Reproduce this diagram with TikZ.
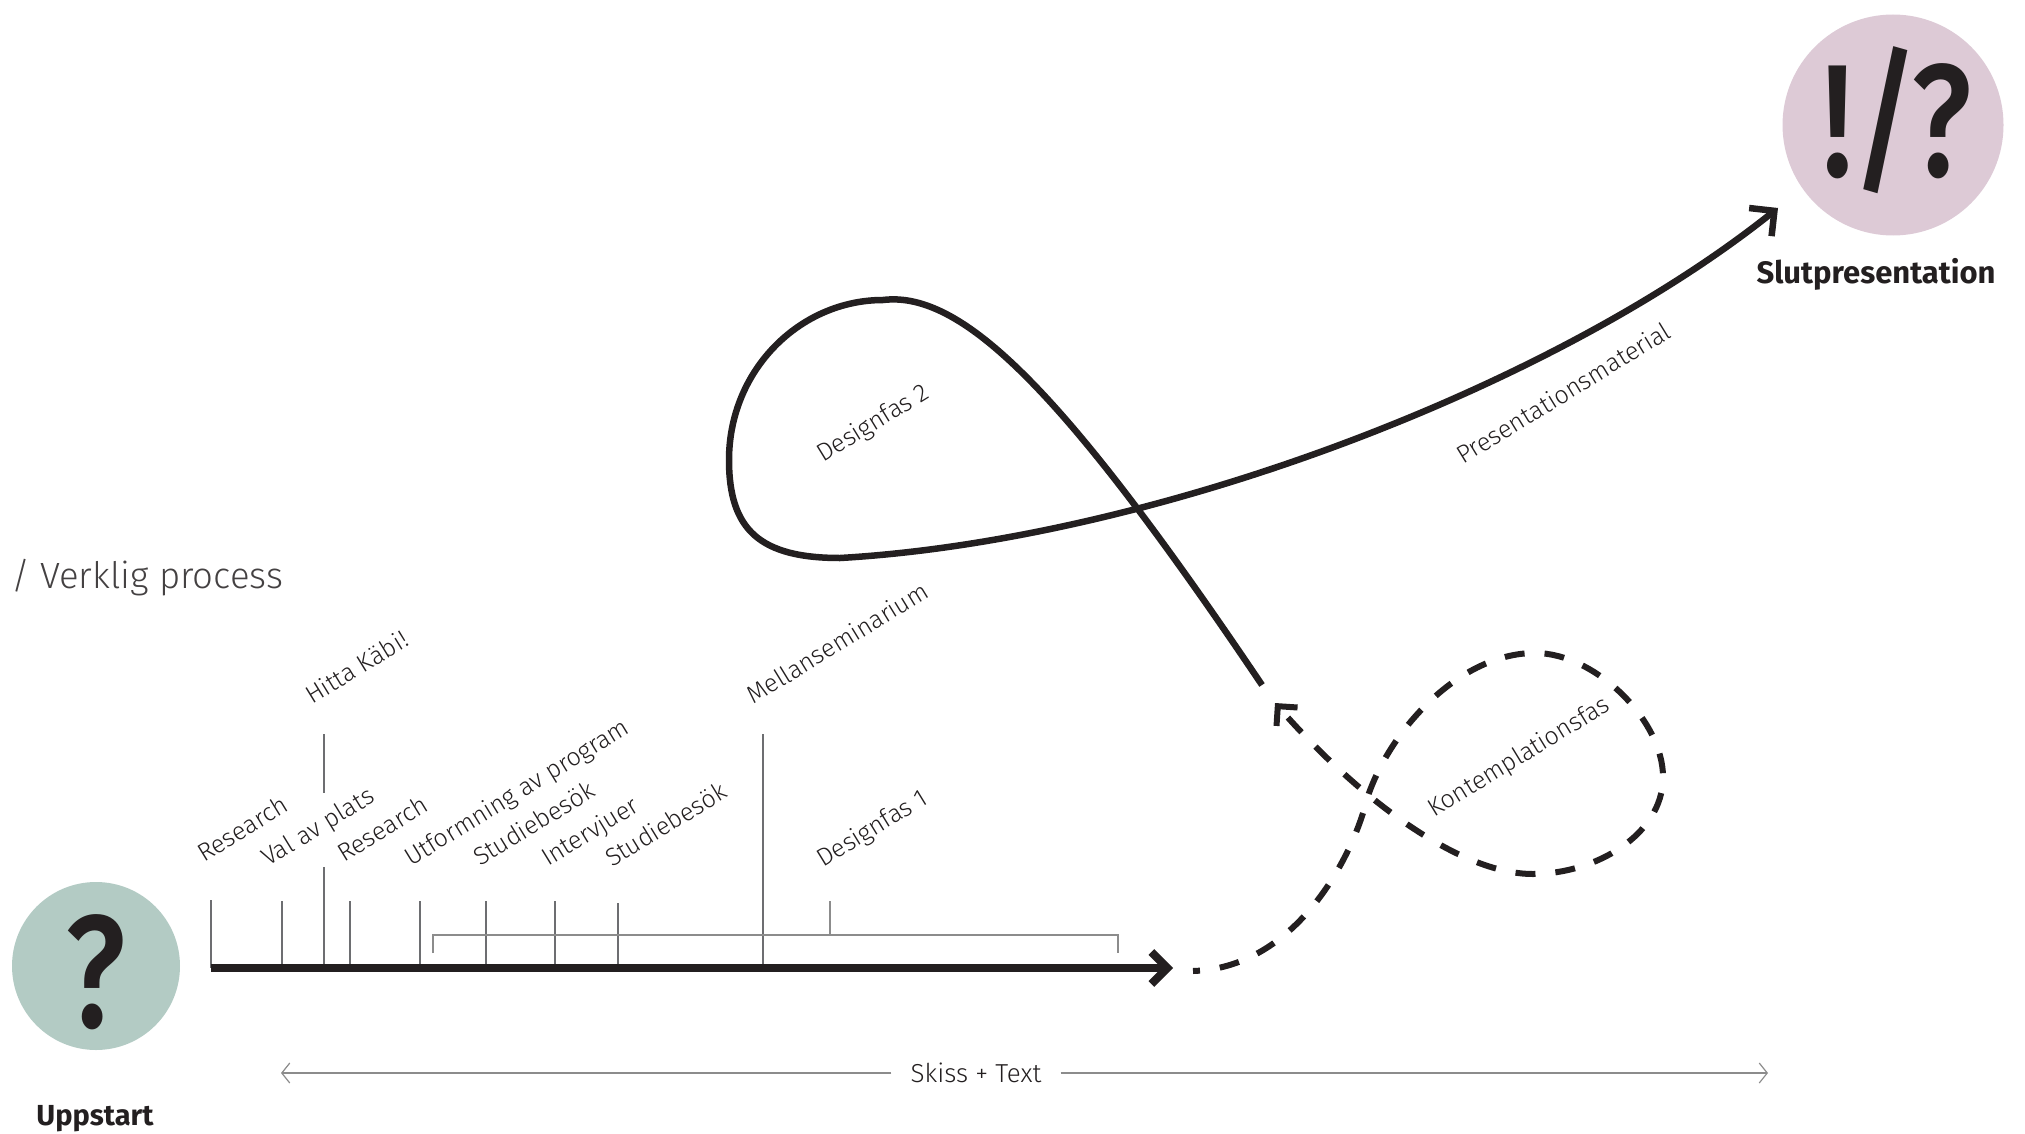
\documentclass[tikz,border=0pt]{standalone}
\usepackage{fontspec}
\setmainfont{Fira Sans}
\newfontfamily\lightf{Fira Sans Light}
\newfontfamily\medf{Fira Sans Medium}
\usetikzlibrary{arrows.meta}
\definecolor{ink}{HTML}{231F20}
\definecolor{tickgray}{HTML}{6D6E71}
\definecolor{palegray}{HTML}{8C8C8C}
\definecolor{startgreen}{HTML}{B3CBC4}
\definecolor{endpink}{HTML}{DDCAD6}
\begin{document}
\begin{tikzpicture}[x=1pt,y=-1pt,
  lbl/.style={font=\lightf\fontsize{25}{30}\selectfont, text=ink, anchor=base west, inner sep=0pt, rotate=31.5},
  tickline/.style={draw=tickgray, line width=2pt},
  bracketline/.style={draw=palegray, line width=2pt},
  mainarrow/.style={draw=ink, line width=8pt, -{Straight Barb[length=16pt,width=32pt]}},
  curvearrow/.style={draw=ink, line width=6.5pt, line join=round, -{Straight Barb[length=18pt,width=36pt]}},
  dasharrow/.style={draw=ink, line width=6pt, dash pattern=on 20pt off 20pt, dash phase=13pt, -{Straight Barb[length=14pt,width=28pt]}},
  skissarrow/.style={draw=palegray, line width=2pt},
  bigmark/.style={font=\medf\fontsize{160}{160}\selectfont, text=ink, inner sep=0pt, anchor=base, xscale=0.8},
  title/.style={font=\bfseries\fontsize{29}{34}\selectfont, text=ink, inner sep=0pt, anchor=base},
]
\useasboundingbox (0,0) rectangle (2025,1134);

% circles
\node[circle, fill=startgreen, minimum size=168pt, inner sep=0pt] (startc) at (96,966) {};
\node[bigmark] (qmark) at (96,1027) {?};
\node[title] (uppstart) at (95,1125) {Uppstart};

\node[circle, fill=endpink, minimum size=221pt, inner sep=0pt] (endc) at (1893,125) {};
\node[bigmark] (emark) at (1897,177) {!/?};
\node[title, font=\bfseries\fontsize{31}{36}\selectfont] (slut) at (1876,283) {Slutpresentation};

% heading
\node[font=\lightf\fontsize{36.5}{42}\selectfont, text=ink!85, anchor=base west, inner sep=0pt] (verklig) at (11,588) {/ Verklig process};

% ticks
\foreach \x/\t in {211/900, 282/901, 350/901, 420/901, 486/901, 555/901, 618/903}
  \draw[tickline] (\x,\t) -- (\x,968);
\draw[tickline] (324,867) -- (324,968);
\draw[tickline] (324,734) -- (324,793);
\draw[tickline] (763,734) -- (763,968);

% bracket
\coordinate (bL) at (433,953);
\coordinate (bR) at (1118,953);
\draw[bracketline] (bL) -- (433,935) -- (1118,935) -- (bR);
\draw[bracketline] (830,901) -- (830,935);

% main timeline arrow
\coordinate (tStart) at (211,968);
\coordinate (tEnd) at (1173,968);
\draw[mainarrow] (tStart) -- (tEnd);

% dashed contemplation loop
\coordinate (dStart) at (1193,971);
\coordinate (dEnd) at (1275,703);
\draw[dasharrow] (dStart) .. controls (1290,968) and (1345,870) .. (1363,813)
  .. controls (1380,740) and (1455,653) .. (1535,653)
  .. controls (1595,653) and (1663,720) .. (1663,777)
  .. controls (1663,835) and (1595,874) .. (1533,874)
  .. controls (1460,874) and (1360,800) .. (dEnd);

% solid design loop to final
\coordinate (cStart) at (1262,685);
\coordinate (cEnd) at (1778,208);
\draw[curvearrow] (cStart) .. controls (1070,400) and (965,290) .. (883,300)
  .. controls (800,300) and (729,370) .. (729,460)
  .. controls (729,530) and (760,558) .. (840,558)
  .. controls (1150,540) and (1550,390) .. (cEnd);

% labels
\node[lbl] (l1) at (204,863) {Research};
\node[lbl] (l2) at (268,867) {Val av plats};
\node[lbl] (l3) at (344,863) {Research};
\node[lbl] (l4) at (411,867) {Utformning av program};
\node[lbl] (l5) at (480,867) {Studiebesök};
\node[lbl] (l6) at (548,867) {Intervjuer};
\node[lbl] (l7) at (612,868) {Studiebesök};
\node[lbl] (l8) at (823,868) {Designfas 1};
\node[lbl] (l9) at (312,705) {Hitta Käbi!};
\node[lbl] (l10) at (753,705) {Mellanseminarium};
\node[lbl] (l11) at (823,463) {Designfas 2};
\node[lbl] (l12) at (1463,465) {Presentationsmaterial};
\node[lbl] (l13) at (1434,818) {Kontemplationsfas};

% Skiss + Text span
\node[font=\lightf\fontsize{26}{30}\selectfont, text=ink, inner xsep=19pt, inner ysep=0pt] (skiss) at (976,1073) {Skiss + Text};
\coordinate (sL) at (281,1073);
\coordinate (sR) at (1768,1073);
\draw[skissarrow, -{Straight Barb[length=8pt,width=20pt,line width=1.2pt]}] (skiss) -- (sL);
\draw[skissarrow, -{Straight Barb[length=8pt,width=20pt,line width=1.2pt]}] (skiss) -- (sR);
\end{tikzpicture}
\end{document}
